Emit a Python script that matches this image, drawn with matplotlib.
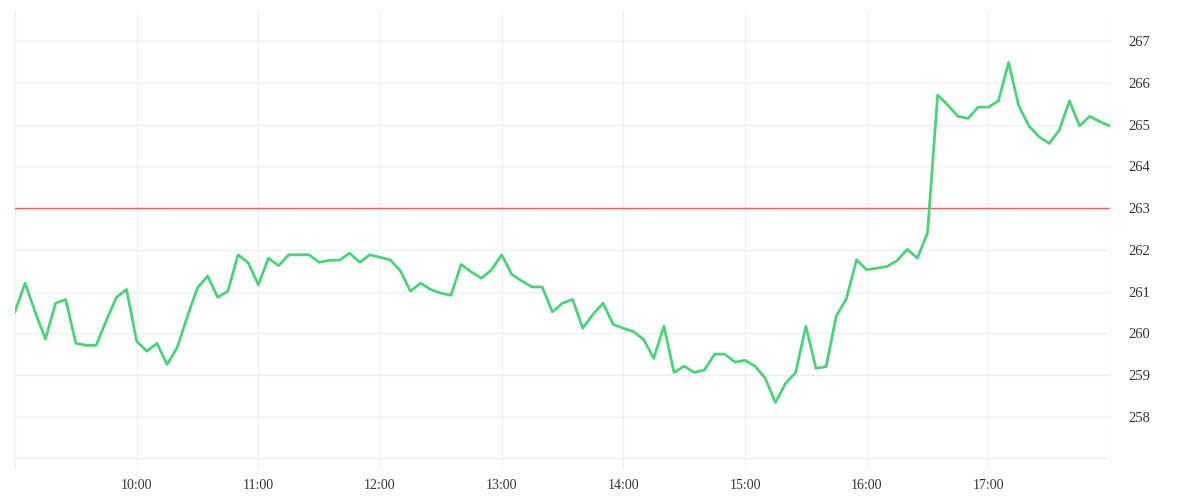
import numpy as np
import pandas as pd
import matplotlib
matplotlib.use("Agg")
import matplotlib.pyplot as plt
import matplotlib.dates as mdates

# precos a cada 5 minutos, 09:00 ate 18:00
precos = [
    260.52, 261.20, 260.50, 259.86, 260.72, 260.81, 259.76, 259.71, 259.71, 260.30,
    260.86, 261.05, 259.81, 259.57, 259.76, 259.25, 259.66, 260.40, 261.09, 261.37,
    260.86, 261.01, 261.88, 261.69, 261.16, 261.80, 261.62, 261.88, 261.88, 261.88,
    261.70, 261.75, 261.75, 261.92, 261.70, 261.88, 261.82, 261.76, 261.50, 261.01,
    261.20, 261.05, 260.96, 260.91, 261.65, 261.47, 261.32, 261.52, 261.88, 261.41,
    261.25, 261.11, 261.11, 260.51, 260.72, 260.81, 260.12, 260.45, 260.72, 260.21,
    260.12, 260.04, 259.85, 259.40, 260.17, 259.06, 259.21, 259.06, 259.12, 259.50,
    259.50, 259.31, 259.35, 259.21, 258.92, 258.34, 258.80, 259.06, 260.17, 259.16,
    259.20, 260.41, 260.83, 261.76, 261.52, 261.56, 261.60, 261.74, 262.01, 261.80,
    262.40, 265.71, 265.47, 265.20, 265.15, 265.42, 265.42, 265.57, 266.49, 265.45,
    264.97, 264.71, 264.55, 264.87, 265.57, 264.97, 265.20, 265.07, 264.97,
]
horarios = pd.date_range("2020-01-02 09:00", periods=len(precos), freq="5min")
fechamento_anterior = 263.0

horas = pd.date_range("2020-01-02 09:00", "2020-01-02 18:00", freq="1h")
rotulos_x = ["" if h.hour in (9, 18) else h.strftime("%H:%M") for h in horas]
niveis_y = list(range(257, 268))
rotulos_y = ["" if v == 257 else str(v) for v in niveis_y]

plt.rcParams["font.family"] = ["Liberation Serif", "DejaVu Serif"]

fig = plt.figure(figsize=(12, 5), dpi=100)
ax = fig.add_axes([0.0125, 0.064, 0.9125, 0.912])

ax.plot(horarios, precos, color="#4cd27c", linewidth=2.0, zorder=3)
ax.axhline(fechamento_anterior, color="#ff5a60", linewidth=1.0, zorder=2)

ax.set_xlim(horas[0], horas[-1])
ax.set_ylim(256.77, 267.70)
ax.set_xticks(horas)
ax.set_xticklabels(rotulos_x)
ax.set_yticks(niveis_y)
ax.set_yticklabels(rotulos_y)
ax.yaxis.tick_right()

ax.grid(True, color="#eeeeee", linewidth=0.9, zorder=0)
ax.set_axisbelow(True)
for s in ax.spines.values():
    s.set_visible(False)

ax.tick_params(axis="x", length=0, pad=8, labelsize=10, labelcolor="#333333")
ax.tick_params(axis="y", length=0, pad=13, labelsize=10.5, labelcolor="#333333")
for lbl in ax.get_yticklabels():
    lbl.set_horizontalalignment("left")

plt.savefig("out.png", dpi=100)
